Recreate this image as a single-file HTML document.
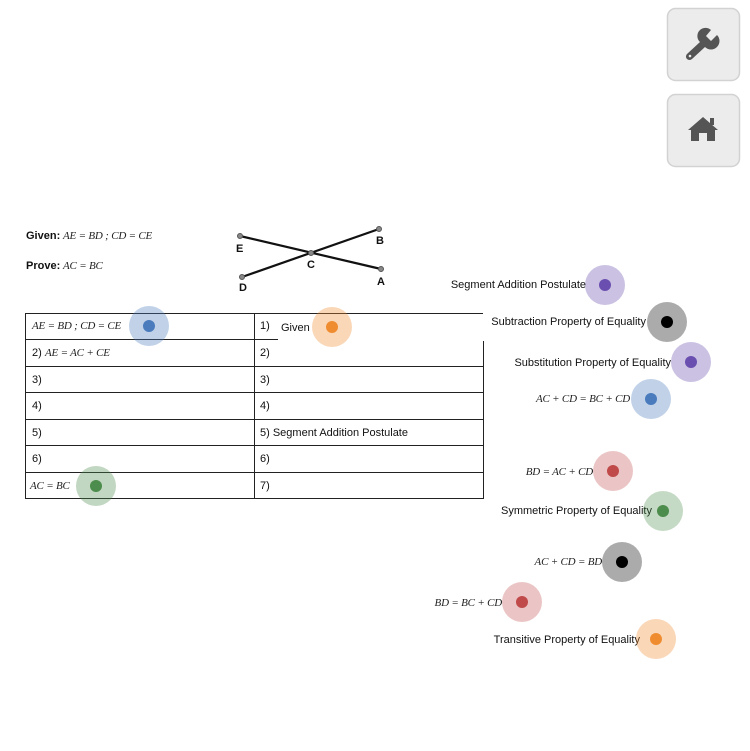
<!DOCTYPE html>
<html><head><meta charset="utf-8"><style>
body{margin:0;width:750px;height:751px;background:#fff;overflow:hidden}
svg{display:block}
.s{font-family:"Liberation Sans",sans-serif;font-size:11px;fill:#111}
.m{font-family:"Liberation Serif",serif;font-style:italic;font-size:11px;fill:#222;letter-spacing:-0.2px}
.b{font-family:"Liberation Sans",sans-serif;font-size:11px;font-weight:bold;fill:#111}
</style></head><body>
<svg width="750" height="751" viewBox="0 0 750 751">
<rect x="667.5" y="8.5" width="72" height="72" rx="8" fill="#ececec" stroke="#d2d2d2" stroke-width="1.5"/>
<rect x="667.5" y="94.5" width="72" height="72" rx="8" fill="#ececec" stroke="#d2d2d2" stroke-width="1.5"/>
<g fill="#555">
<path d="M687 54 L700 42 A8 8 0 0 1 711 30 L706 36 L711 41 L717 35 A8 8 0 0 1 705 47 L692 59 A3.5 3.5 0 0 1 687 54 Z"/>
<circle cx="690" cy="56" r="1.3" fill="#ececec"/>
<path d="M688 130 L703 117 L718 130 L715 130 L715 141 L707 141 L707 133 L699 133 L699 141 L691 141 L691 130 Z"/>
<rect x="710" y="118" width="4" height="7"/>
</g>
<text x="26" y="239" class="b">Given:</text><text x="63" y="239" class="m">AE = BD ; CD = CE</text>
<text x="26" y="269" class="b">Prove:</text><text x="63" y="269" class="m">AC = BC</text>
<g stroke="#111" stroke-width="2.2"><line x1="240" y1="236" x2="381" y2="269"/><line x1="242" y1="277" x2="379" y2="229"/></g>
<g fill="#888" stroke="#555"><circle cx="240" cy="236" r="2.5"/><circle cx="381" cy="269" r="2.5"/><circle cx="242" cy="277" r="2.5"/><circle cx="379" cy="229" r="2.5"/><circle cx="311" cy="253" r="2.5"/></g>
<text x="236" y="252" class="b">E</text><text x="376" y="244" class="b">B</text><text x="307" y="268" class="b">C</text><text x="377" y="285" class="b">A</text><text x="239" y="291" class="b">D</text>
<g stroke="#222" stroke-width="1" fill="none">
<line x1="25" y1="313.5" x2="483" y2="313.5"/>
<line x1="25" y1="339.5" x2="278" y2="339.5"/>
<line x1="25" y1="366.5" x2="483" y2="366.5"/>
<line x1="25" y1="392.5" x2="483" y2="392.5"/>
<line x1="25" y1="419.5" x2="483" y2="419.5"/>
<line x1="25" y1="445.5" x2="483" y2="445.5"/>
<line x1="25" y1="472.5" x2="483" y2="472.5"/>
<line x1="25" y1="498.5" x2="483" y2="498.5"/>
<line x1="25.5" y1="313" x2="25.5" y2="499"/>
<line x1="254.5" y1="313" x2="254.5" y2="499"/>
<line x1="483.5" y1="341" x2="483.5" y2="499"/>
</g>
<text x="32" y="329" class="m">AE = BD ; CD = CE</text><text x="260" y="329" class="s">1)</text><text x="281" y="331" class="s">Given</text>
<text x="32" y="356" class="s">2) </text><text x="45" y="356" class="m">AE = AC + CE</text><text x="260" y="356" class="s">2)</text>
<text x="32" y="383" class="s">3)</text><text x="260" y="383" class="s">3)</text>
<text x="32" y="409" class="s">4)</text><text x="260" y="409" class="s">4)</text>
<text x="32" y="436" class="s">5)</text><text x="260" y="436" class="s">5) Segment Addition Postulate</text>
<text x="32" y="462" class="s">6)</text><text x="260" y="462" class="s">6)</text>
<text x="30" y="489" class="m">AC = BC</text><text x="260" y="489" class="s">7)</text>
<text x="586" y="288" class="s" text-anchor="end">Segment Addition Postulate</text>
<text x="646" y="325" class="s" text-anchor="end">Subtraction Property of Equality</text>
<text x="671" y="366" class="s" text-anchor="end">Substitution Property of Equality</text>
<text x="630" y="402" class="m" text-anchor="end">AC + CD = BC + CD</text>
<text x="593" y="475" class="m" text-anchor="end">BD = AC + CD</text>
<text x="652" y="514" class="s" text-anchor="end">Symmetric Property of Equality</text>
<text x="602" y="565" class="m" text-anchor="end">AC + CD = BD</text>
<text x="502" y="606" class="m" text-anchor="end">BD = BC + CD</text>
<text x="640" y="643" class="s" text-anchor="end">Transitive Property of Equality</text>
<g>
<circle cx="149" cy="326" r="20" fill="#4a7bbd" opacity=".35"/><circle cx="149" cy="326" r="6" fill="#4a7bbd"/>
<circle cx="332" cy="327" r="20" fill="#f08c30" opacity=".35"/><circle cx="332" cy="327" r="6" fill="#f08c30"/>
<circle cx="96" cy="486" r="20" fill="#4c8c4c" opacity=".35"/><circle cx="96" cy="486" r="6" fill="#4c8c4c"/>
<circle cx="605" cy="285" r="20" fill="#6a4fb0" opacity=".35"/><circle cx="605" cy="285" r="6" fill="#6a4fb0"/>
<circle cx="667" cy="322" r="20" fill="#444" opacity=".45"/><circle cx="667" cy="322" r="6" fill="#000"/>
<circle cx="691" cy="362" r="20" fill="#6a4fb0" opacity=".35"/><circle cx="691" cy="362" r="6" fill="#6a4fb0"/>
<circle cx="651" cy="399" r="20" fill="#4a7bbd" opacity=".35"/><circle cx="651" cy="399" r="6" fill="#4a7bbd"/>
<circle cx="613" cy="471" r="20" fill="#c04a4a" opacity=".32"/><circle cx="613" cy="471" r="6" fill="#c04a4a"/>
<circle cx="663" cy="511" r="20" fill="#4c8c4c" opacity=".32"/><circle cx="663" cy="511" r="6" fill="#4c8c4c"/>
<circle cx="622" cy="562" r="20" fill="#444" opacity=".45"/><circle cx="622" cy="562" r="6" fill="#000"/>
<circle cx="522" cy="602" r="20" fill="#c04a4a" opacity=".32"/><circle cx="522" cy="602" r="6" fill="#c04a4a"/>
<circle cx="656" cy="639" r="20" fill="#f08c30" opacity=".35"/><circle cx="656" cy="639" r="6" fill="#f08c30"/>
</g>
</svg>
</body></html>
